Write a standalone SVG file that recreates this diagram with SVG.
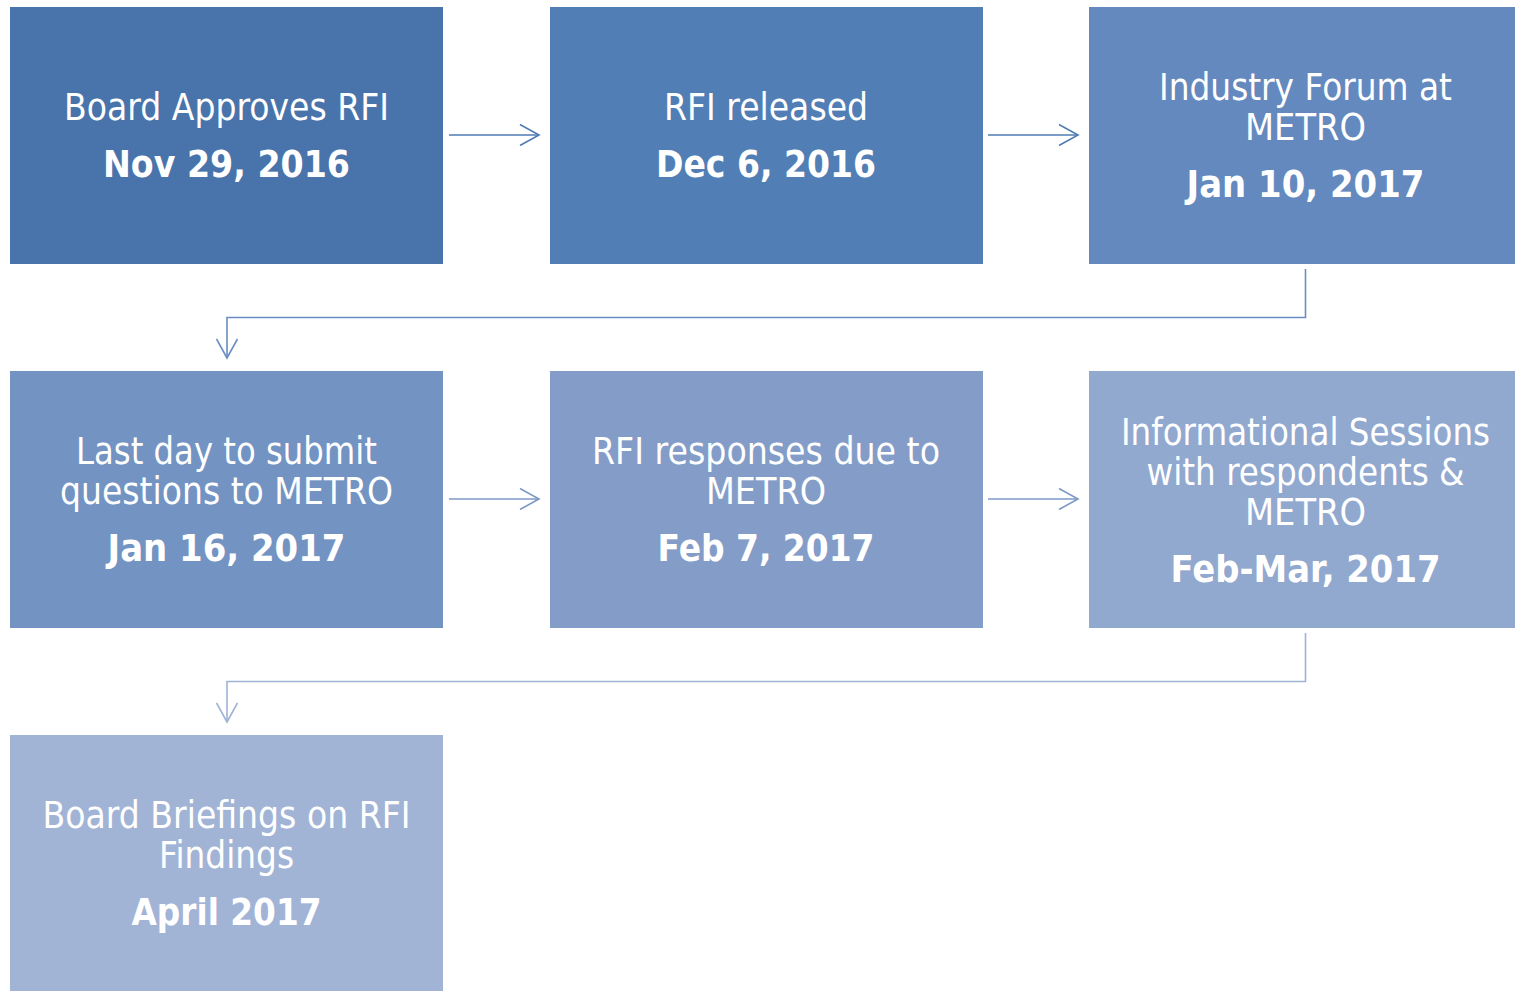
<svg xmlns="http://www.w3.org/2000/svg" width="1515" height="991" viewBox="0 0 1515 991">
<style>
.r{font-family:"DejaVu Sans","Liberation Sans",sans-serif;font-size:37px;fill:#fff;text-anchor:middle}
.b{font-family:"DejaVu Sans","Liberation Sans",sans-serif;font-size:38px;font-weight:bold;fill:#fff;text-anchor:middle}
.c{fill:none;stroke-width:1.6}
</style>
<defs>
<marker id="a1" markerUnits="userSpaceOnUse" viewBox="-20 -11 22 22" refX="0" refY="0" markerWidth="22" markerHeight="22" orient="auto"><path d="M-19,-10.5 L0,0 L-19,10.5" fill="none" stroke="#4E7BB3" stroke-width="1.6"/></marker>
<marker id="a2" markerUnits="userSpaceOnUse" viewBox="-20 -11 22 22" refX="0" refY="0" markerWidth="22" markerHeight="22" orient="auto"><path d="M-19,-10.5 L0,0 L-19,10.5" fill="none" stroke="#6A8DC1" stroke-width="1.6"/></marker>
<marker id="a3" markerUnits="userSpaceOnUse" viewBox="-20 -11 22 22" refX="0" refY="0" markerWidth="22" markerHeight="22" orient="auto"><path d="M-19,-10.5 L0,0 L-19,10.5" fill="none" stroke="#7C99C6" stroke-width="1.6"/></marker>
<marker id="a4" markerUnits="userSpaceOnUse" viewBox="-20 -11 22 22" refX="0" refY="0" markerWidth="22" markerHeight="22" orient="auto"><path d="M-19,-10.5 L0,0 L-19,10.5" fill="none" stroke="#9EB3D6" stroke-width="1.6"/></marker>
</defs>
<rect width="1515" height="991" fill="#fff"/>
<g id="n1"><rect x="10" y="7" width="433" height="257" fill="#4874AB"/>
<text class="r" x="226.5" y="120" textLength="325" lengthAdjust="spacingAndGlyphs">Board Approves RFI</text>
<text class="b" x="226.5" y="177" textLength="247" lengthAdjust="spacingAndGlyphs">Nov 29, 2016</text></g>
<g id="n2"><rect x="550" y="7" width="433" height="257" fill="#517EB5"/>
<text class="r" x="766" y="120" textLength="204" lengthAdjust="spacingAndGlyphs">RFI released</text>
<text class="b" x="766" y="177" textLength="220" lengthAdjust="spacingAndGlyphs">Dec 6, 2016</text></g>
<g id="n3"><rect x="1089" y="7" width="426" height="257" fill="#6489BE"/>
<text class="r" x="1305.5" y="100" textLength="293" lengthAdjust="spacingAndGlyphs">Industry Forum at</text>
<text class="r" x="1305.5" y="140" textLength="121" lengthAdjust="spacingAndGlyphs">METRO</text>
<text class="b" x="1305.5" y="197" textLength="238" lengthAdjust="spacingAndGlyphs">Jan 10, 2017</text></g>
<g id="n4"><rect x="10" y="371" width="433" height="257" fill="#7393C3"/>
<text class="r" x="226.5" y="464" textLength="301" lengthAdjust="spacingAndGlyphs">Last day to submit</text>
<text class="r" x="226.5" y="504" textLength="333" lengthAdjust="spacingAndGlyphs">questions to METRO</text>
<text class="b" x="226.5" y="561" textLength="238" lengthAdjust="spacingAndGlyphs">Jan 16, 2017</text></g>
<g id="n5"><rect x="550" y="371" width="433" height="257" fill="#839DC8"/>
<text class="r" x="766" y="464" textLength="348" lengthAdjust="spacingAndGlyphs">RFI responses due to</text>
<text class="r" x="766" y="504" textLength="120" lengthAdjust="spacingAndGlyphs">METRO</text>
<text class="b" x="766" y="561" textLength="217" lengthAdjust="spacingAndGlyphs">Feb 7, 2017</text></g>
<g id="n6"><rect x="1089" y="371" width="426" height="257" fill="#91A9CF"/>
<text class="r" x="1305.5" y="445" textLength="369" lengthAdjust="spacingAndGlyphs">Informational Sessions</text>
<text class="r" x="1305.5" y="485" textLength="318" lengthAdjust="spacingAndGlyphs">with respondents &amp;</text>
<text class="r" x="1305.5" y="525" textLength="121" lengthAdjust="spacingAndGlyphs">METRO</text>
<text class="b" x="1305.5" y="582" textLength="270" lengthAdjust="spacingAndGlyphs">Feb-Mar, 2017</text></g>
<g id="n7"><rect x="10" y="735" width="433" height="256" fill="#A2B4D6"/>
<text class="r" x="226.5" y="828" textLength="368" lengthAdjust="spacingAndGlyphs">Board Briefings on RFI</text>
<text class="r" x="226.5" y="868" textLength="135" lengthAdjust="spacingAndGlyphs">Findings</text>
<text class="b" x="226.5" y="925" textLength="190" lengthAdjust="spacingAndGlyphs">April 2017</text></g>
<g id="connectors">
<path class="c" stroke="#4E7BB3" d="M449,135 H539" marker-end="url(#a1)"/>
<path class="c" stroke="#4E7BB3" d="M988,135 H1078" marker-end="url(#a1)"/>
<path class="c" stroke="#6A8DC1" d="M1305.5,269 V317.5 H227 V358" marker-end="url(#a2)"/>
<path class="c" stroke="#7C99C6" d="M449,499 H539" marker-end="url(#a3)"/>
<path class="c" stroke="#7C99C6" d="M988,499 H1078" marker-end="url(#a3)"/>
<path class="c" stroke="#9EB3D6" d="M1305.5,633 V681.5 H227 V722" marker-end="url(#a4)"/>
</g>
</svg>
